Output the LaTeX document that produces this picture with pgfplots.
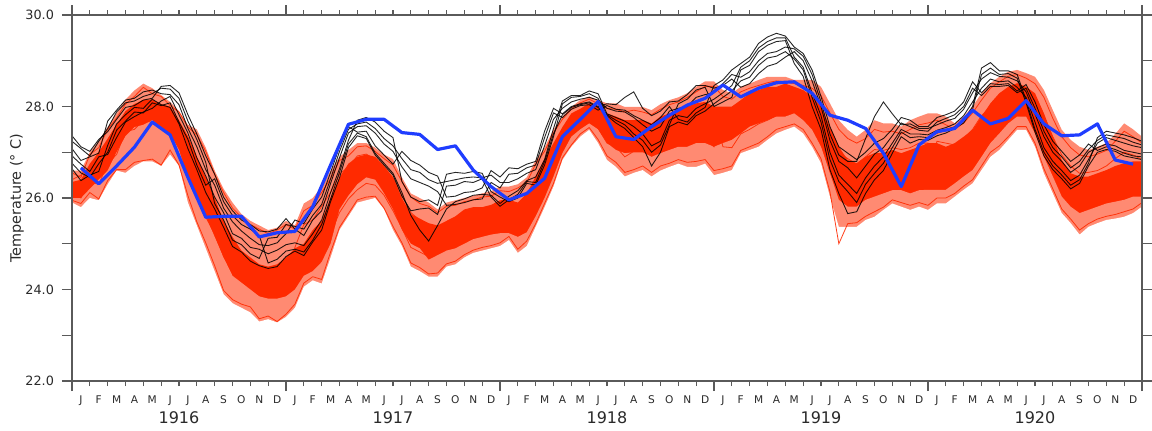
\documentclass[border=0pt]{standalone}
\usepackage{fontspec}
\setmainfont{DejaVu Sans}
\usepackage{pgfplots}
\usepackage{pgfplotstable}
\pgfplotsset{compat=1.18}

\definecolor{ensred}{HTML}{FF2A00}
\definecolor{enspale}{HTML}{FF8A72}
\definecolor{obsblue}{HTML}{1F3DFF}
\definecolor{axgray}{HTML}{5A5A5A}
\definecolor{txt}{HTML}{2A2A2A}

% Half-monthly ensemble spread (outer and core range), five sample red members
% and six black members; x = months since Jan 1916
\pgfplotstableread{
x rlo rhi clo chi r1 r2 r3 r4 r5 b1 b2 b3 b4 b5 b6
0 25.90 26.60 26.00 26.35 26.55 25.95 26.40 26.10 26.25 27.36 26.76 27.08 26.92 27.24 26.64
0.5 25.80 26.60 26.00 26.40 26.45 25.88 26.50 26.00 26.22 27.12 26.55 26.82 26.74 27.08 26.38
1 26.00 27.00 26.20 26.75 26.95 26.12 26.65 26.35 26.48 27.02 26.45 26.90 26.58 26.92 26.50
1.5 25.95 27.25 26.40 27.00 27.10 25.98 27.00 26.30 26.75 27.28 26.75 26.98 26.90 27.24 26.58
2 26.30 27.55 26.60 27.30 27.50 26.38 27.25 26.75 26.95 27.45 27.00 27.68 26.95 27.52 27.15
2.5 26.60 27.85 27.00 27.60 27.75 26.62 27.60 26.95 27.35 27.72 27.48 27.92 27.32 27.88 27.62
3 26.55 28.15 27.35 27.90 28.05 26.62 27.80 27.45 27.60 27.98 27.68 28.14 27.66 28.08 27.82
3.5 26.70 28.35 27.55 28.05 28.22 26.78 28.05 27.50 27.85 28.02 27.88 28.18 27.78 28.12 27.98
4 26.80 28.50 27.60 28.15 28.42 26.82 28.08 27.70 27.92 28.14 27.86 28.32 27.88 28.22 27.96
4.5 26.80 28.40 27.70 28.15 28.28 26.85 28.15 27.65 28.00 28.18 28.08 28.36 27.96 28.28 28.16
5 26.70 28.25 27.55 28.05 28.22 26.72 27.95 27.62 27.82 28.44 28.02 28.28 28.12 28.40 28.04
5.5 26.95 28.10 27.40 28.00 28.02 27.05 27.98 27.42 27.78 28.46 28.08 28.26 28.22 28.38 27.98
6 26.70 27.90 27.05 27.70 27.88 26.72 27.58 27.12 27.38 28.30 27.66 28.04 27.82 28.18 27.62
6.5 25.90 27.60 26.45 27.35 27.55 26.05 27.32 26.48 26.92 27.82 27.28 27.52 27.42 27.68 27.08
7 25.40 27.50 25.95 26.90 27.38 25.48 26.82 26.05 26.38 27.40 26.72 27.12 26.88 27.28 26.62
7.5 24.90 27.10 25.60 26.45 27.02 25.02 26.42 25.58 26.05 26.92 26.28 26.62 26.48 26.78 26.12
8 24.40 26.60 25.15 26.00 26.52 24.52 25.92 25.22 25.58 26.52 26.42 26.28 26.02 25.88 25.76
8.5 23.90 26.20 24.70 25.50 26.12 23.98 25.48 24.72 25.12 26.02 25.92 25.78 25.68 25.52 25.36
9 23.70 25.90 24.30 25.15 25.78 23.78 25.08 24.38 24.72 25.72 25.62 25.48 25.22 25.08 24.94
9.5 23.60 25.65 24.15 24.85 25.58 23.68 24.82 24.18 24.52 25.52 25.42 25.28 25.12 24.98 24.82
10 23.50 25.50 24.00 24.70 25.42 23.62 24.62 24.08 24.32 25.42 25.32 25.12 24.92 24.78 24.62
10.5 23.30 25.40 23.85 24.55 25.32 23.36 24.52 23.88 24.22 25.28 25.18 24.98 24.88 24.68 24.52
11 23.35 25.30 23.80 24.50 25.22 23.42 24.42 23.86 24.12 25.26 24.58 24.96 24.78 25.12 24.46
11.5 23.28 25.35 23.80 24.55 25.30 23.30 24.52 23.82 24.22 25.32 24.66 25.02 24.86 25.14 24.50
12 23.40 25.50 23.85 24.70 25.42 23.46 24.62 23.98 24.28 25.55 24.84 25.22 24.98 25.42 24.72
12.5 23.60 25.40 24.00 24.90 25.32 23.68 24.08 24.92 24.52 25.32 24.88 25.52 25.02 25.38 24.84
13 24.06 25.88 24.30 25.00 25.72 24.14 24.48 25.42 24.92 25.18 24.82 25.44 24.96 25.32 24.74
13.5 24.20 26.00 24.40 25.30 25.84 24.28 24.62 25.52 25.12 25.52 25.08 25.76 25.22 25.62 25.04
14 24.13 26.25 24.60 25.50 26.12 24.22 24.72 25.82 25.18 25.72 25.42 26.02 25.52 25.86 25.30
14.5 24.70 26.60 25.00 26.00 26.42 24.82 25.22 26.12 25.62 26.32 25.98 26.56 26.12 26.42 25.92
15 25.30 26.90 25.75 26.45 26.82 25.36 25.68 26.52 26.12 26.88 26.56 27.12 26.64 27.02 26.44
15.5 25.60 27.05 26.05 26.75 26.92 25.66 25.98 26.68 26.36 27.42 27.18 27.56 27.26 27.50 27.10
16 25.90 27.20 26.30 26.90 27.12 25.96 26.18 26.92 26.52 27.56 27.42 27.44 27.70 27.62 27.36
16.5 25.95 27.20 26.45 26.95 27.14 26.02 26.32 26.96 26.62 27.58 27.34 27.46 27.76 27.66 27.30
17 26.00 27.10 26.40 26.90 27.02 26.04 26.28 26.84 26.58 27.42 26.98 27.14 27.66 27.52 26.94
17.5 25.75 26.95 26.10 26.70 26.86 25.78 26.06 26.66 26.34 27.18 26.76 26.94 27.46 27.30 26.72
18 25.30 26.85 25.75 26.45 26.72 25.38 25.72 26.44 26.06 27.02 26.54 26.74 27.32 27.14 26.50
18.5 24.95 26.45 25.30 26.00 26.36 25.02 25.34 26.06 25.68 26.68 26.12 27.02 26.36 26.86 26.04
19 24.50 26.10 25.00 25.65 26.02 24.58 24.92 25.68 25.32 26.42 25.62 26.82 26.02 26.62 25.72
19.5 24.40 26.00 24.90 25.55 25.88 24.48 24.82 25.52 25.18 26.34 25.30 26.72 25.92 26.56 25.76
20 24.28 25.90 24.65 25.45 25.82 24.34 24.72 25.42 25.06 26.26 25.06 26.56 25.96 26.40 25.78
20.5 24.28 25.75 24.75 25.40 25.68 24.36 24.78 25.36 25.04 26.14 25.40 26.48 25.84 26.32 25.64
21 24.50 25.90 24.85 25.50 25.82 24.56 24.92 25.46 25.22 25.84 25.76 26.02 26.52 26.36 26.26
21.5 24.55 25.95 24.90 25.60 25.84 24.62 24.94 25.56 25.26 25.86 25.92 26.04 26.56 26.40 26.28
22 24.70 26.00 25.00 25.75 25.92 24.76 25.06 25.66 25.36 25.90 25.98 26.12 26.54 26.44 26.36
22.5 24.80 26.05 25.10 25.80 25.96 24.86 25.16 25.72 25.44 25.96 26.06 26.14 26.58 26.46 26.34
23 24.85 26.10 25.15 25.80 26.02 24.92 25.22 25.76 25.50 25.98 26.08 26.22 26.54 26.44 26.42
23.5 24.90 26.15 25.20 25.85 26.04 24.96 25.24 25.82 25.56 26.34 26.06 26.60 26.14 26.50 26.02
24 24.95 26.25 25.23 25.95 26.16 25.02 25.32 25.88 25.60 26.22 25.88 26.46 26.02 26.34 25.82
24.5 25.08 26.25 25.23 25.96 26.14 25.16 25.88 25.46 25.66 26.52 26.04 26.66 25.92 26.34 25.96
25 24.80 26.30 25.15 25.90 26.22 24.88 25.86 25.24 25.56 26.54 26.16 26.64 26.00 26.42 26.08
25.5 24.95 26.45 25.25 26.10 26.34 25.06 26.02 25.38 25.72 26.66 26.38 26.74 26.32 26.54 26.36
26 25.37 26.83 25.60 26.47 26.74 25.44 26.42 25.78 26.12 26.72 26.46 26.80 26.28 26.62 26.34
26.5 25.80 27.10 26.00 26.85 27.02 25.88 26.68 26.22 26.44 27.32 26.84 27.46 26.72 27.14 26.80
27 26.25 27.50 26.47 27.20 27.42 26.32 27.12 26.64 26.86 27.86 27.52 27.96 27.34 27.72 27.40
27.5 26.83 27.78 26.98 27.55 27.72 26.88 27.48 27.12 27.30 27.76 28.12 27.84 28.06 27.96 27.82
28 27.12 27.99 27.34 27.85 27.94 27.16 27.72 27.38 27.56 27.94 28.24 28.00 28.20 28.10 27.98
28.5 27.34 28.14 27.50 27.95 28.08 27.40 27.90 27.56 27.74 28.02 28.24 28.06 28.22 28.16 28.04
29 27.49 28.22 27.63 28.07 28.16 27.54 28.02 27.68 27.86 28.04 28.34 28.10 28.28 28.20 28.08
29.5 27.20 28.14 27.50 27.99 28.06 27.28 27.84 27.52 27.70 27.92 28.28 28.00 28.18 28.14 27.98
30 26.83 28.07 27.20 27.85 27.96 26.92 27.70 27.20 27.46 28.02 27.84 28.06 27.80 27.96 27.82
30.5 26.68 28.07 27.05 27.78 27.94 26.78 27.64 27.12 27.36 27.94 27.76 28.04 27.64 27.90 27.70
31 26.47 27.99 26.98 27.70 27.88 26.56 27.52 26.90 27.24 27.92 27.68 28.20 27.52 27.88 27.60
31.5 26.55 27.99 27.00 27.70 27.92 26.62 27.56 27.02 27.30 27.80 27.56 28.32 27.32 27.76 27.40
32 26.61 27.99 27.00 27.70 27.88 26.70 27.60 27.06 27.32 27.70 27.40 27.96 27.12 27.60 27.26
32.5 26.47 27.92 26.90 27.63 27.82 26.56 27.48 26.92 27.20 27.60 27.14 27.80 26.70 27.46 27.00
33 26.60 28.05 26.98 27.78 27.94 26.70 27.62 27.06 27.36 27.76 27.24 27.90 27.00 27.56 27.16
33.5 26.68 28.14 27.05 27.85 28.04 26.76 27.70 27.12 27.40 28.00 27.70 28.10 27.56 27.90 27.60
34 26.75 28.20 27.12 27.92 28.10 26.84 27.76 27.20 27.50 27.72 27.80 28.12 27.66 27.96 28.06
34.5 26.68 28.29 27.12 28.00 28.20 26.78 27.82 27.20 27.52 27.66 27.76 28.26 27.60 28.00 28.16
35 26.68 28.43 27.20 28.07 28.32 26.80 27.92 27.22 27.56 27.86 27.96 28.46 27.80 28.20 28.36
35.5 26.75 28.55 27.20 28.10 28.44 26.84 28.00 27.30 27.66 27.98 28.06 28.46 27.90 28.26 28.42
36 26.50 28.55 27.12 28.00 28.44 26.60 27.96 27.12 27.50 28.46 28.16 28.40 28.06 28.30 28.00
36.5 26.55 28.36 27.20 28.00 28.22 26.64 27.12 27.82 27.46 28.58 28.30 28.46 28.20 28.50 28.10
37 26.61 28.29 27.27 28.00 28.16 26.70 27.10 27.80 27.46 28.80 28.46 28.60 28.34 28.70 28.20
37.5 26.98 28.43 27.41 28.14 28.32 27.04 27.40 28.00 27.70 28.94 28.86 28.42 28.56 28.64 28.80
38 27.05 28.50 27.56 28.29 28.40 27.12 27.50 28.06 27.80 29.08 29.00 28.50 28.64 28.76 28.90
38.5 27.12 28.58 27.63 28.36 28.46 27.20 27.62 28.14 27.86 29.38 29.28 28.72 28.90 29.00 29.20
39 27.27 28.65 27.70 28.43 28.52 27.34 27.70 28.26 27.96 29.52 29.42 28.88 29.06 29.16 29.34
39.5 27.41 28.65 27.78 28.43 28.56 27.50 27.80 28.30 28.04 29.60 29.50 28.94 29.10 29.20 29.42
40 27.49 28.65 27.78 28.50 28.54 27.56 27.86 28.30 28.10 29.54 29.50 29.08 29.20 29.30 29.44
40.5 27.56 28.58 27.85 28.43 28.50 27.62 27.90 28.30 28.10 29.30 29.08 29.20 29.04 29.26 28.94
41 27.41 28.58 27.70 28.36 28.46 27.50 27.80 28.26 28.00 29.16 28.86 29.00 28.80 29.10 28.66
41.5 27.12 28.58 27.49 28.22 28.40 27.20 27.60 28.16 27.86 28.80 28.30 28.56 28.20 28.70 28.00
42 26.76 28.43 27.12 28.00 28.24 26.86 27.26 27.90 27.60 28.22 27.80 28.00 27.66 28.10 27.50
42.5 26.03 28.07 26.54 27.56 27.86 26.14 26.66 27.46 27.04 27.56 27.00 27.26 26.84 27.40 26.62
43 25.37 27.70 25.96 27.12 27.50 25.00 26.06 27.00 26.50 27.12 26.50 26.80 26.36 26.94 26.10
43.5 25.37 27.49 25.81 26.83 27.30 25.44 26.00 26.86 26.40 26.98 26.30 26.66 26.14 26.80 25.66
44 25.37 27.34 25.81 26.76 27.20 25.46 25.96 26.74 26.34 26.84 26.10 26.44 25.90 26.80 25.70
44.5 25.52 27.49 25.96 26.90 27.30 25.60 26.10 26.90 26.50 27.00 26.44 26.70 26.30 27.30 26.10
45 25.59 27.70 26.03 26.98 27.50 25.70 26.20 27.06 26.64 27.20 26.70 26.96 26.54 27.78 26.40
45.5 25.74 27.63 26.10 26.98 27.44 25.80 26.30 27.04 26.70 27.30 26.90 27.10 26.76 28.10 26.60
46 25.88 27.63 26.17 27.05 27.46 25.96 26.40 27.10 26.76 27.50 27.20 27.36 27.10 27.84 26.98
46.5 25.81 27.56 26.17 26.98 27.40 25.90 26.34 27.06 26.70 27.76 27.50 27.64 27.44 27.60 27.34
47 25.74 27.70 26.10 27.05 27.50 25.84 26.30 27.10 26.70 27.70 27.40 27.56 27.32 27.62 27.20
47.5 25.81 27.78 26.17 27.12 27.60 25.90 26.40 27.20 26.80 27.56 27.40 27.48 27.34 27.52 27.28
48 25.74 27.85 26.18 27.20 27.64 25.84 26.36 27.20 26.80 27.56 27.38 27.46 27.32 27.52 27.26
48.5 25.88 27.85 26.18 27.20 27.70 26.00 27.24 26.46 26.84 27.76 27.48 27.66 27.42 27.60 27.36
49 25.88 27.78 26.18 27.12 27.60 26.00 27.20 26.44 26.86 27.82 27.54 27.74 27.48 27.68 27.42
49.5 26.03 27.63 26.32 27.20 27.50 26.10 27.16 26.50 26.86 27.90 27.62 27.82 27.56 27.74 27.52
50 26.18 27.78 26.47 27.34 27.64 26.26 27.30 26.66 27.00 28.10 27.80 28.00 27.70 27.94 27.64
50.5 26.32 28.00 26.61 27.49 27.86 26.40 27.50 26.84 27.16 28.54 28.10 28.40 28.00 28.30 27.94
51 26.61 28.29 26.90 27.78 28.14 26.70 27.80 27.10 27.44 28.30 28.40 28.24 28.84 28.60 28.70
51.5 26.90 28.51 27.20 28.07 28.40 27.00 28.00 27.40 27.70 28.50 28.60 28.44 28.96 28.74 28.84
52 27.05 28.65 27.41 28.29 28.54 27.14 28.14 27.56 27.86 28.48 28.54 28.44 28.78 28.66 28.70
52.5 27.27 28.76 27.63 28.43 28.66 27.34 28.30 27.70 28.00 28.50 28.56 28.46 28.78 28.64 28.72
53 27.49 28.80 27.78 28.51 28.70 27.56 28.40 27.90 28.14 28.34 28.42 28.30 28.70 28.56 28.62
53.5 27.49 28.73 27.78 28.43 28.62 27.56 28.34 27.84 28.10 28.48 28.20 28.40 28.14 28.32 28.08
54 27.12 28.65 27.41 28.29 28.50 27.20 28.20 27.60 27.90 28.10 27.66 27.96 27.50 27.84 27.44
54.5 26.54 28.36 26.90 27.85 28.20 26.64 27.80 27.10 27.44 27.60 27.10 27.46 27.00 27.34 26.92
55 26.10 27.92 26.47 27.34 27.74 26.20 27.34 26.66 27.00 27.24 26.80 27.10 26.70 27.00 26.62
55.5 25.67 27.49 26.03 26.83 27.34 25.76 26.94 26.20 26.60 27.02 26.60 26.90 26.50 26.80 26.42
56 25.45 27.27 25.81 26.54 27.10 25.54 26.70 26.00 26.36 26.80 26.38 26.66 26.28 26.56 26.20
56.5 25.20 27.12 25.67 26.47 26.94 25.30 26.54 25.80 26.16 26.94 26.50 26.80 26.40 26.70 26.32
57 25.37 27.05 25.74 26.47 26.90 25.44 26.56 25.90 26.20 27.18 26.84 27.06 26.76 27.00 26.70
57.5 25.45 27.12 25.81 26.54 26.96 25.54 26.60 25.96 26.30 27.04 27.20 27.26 27.32 27.10 27.00
58 25.52 27.20 25.88 26.61 27.04 25.60 26.70 26.00 26.36 27.12 27.32 27.38 27.46 27.18 27.06
58.5 25.55 27.40 25.92 26.70 27.24 25.64 26.86 26.10 26.50 27.06 27.26 27.34 27.42 27.14 27.02
59 25.59 27.63 25.96 26.76 27.46 25.70 27.00 26.20 26.60 26.98 27.20 27.30 27.38 27.04 26.92
59.5 25.67 27.50 26.03 26.80 27.34 25.76 26.94 26.20 26.60 26.92 27.14 27.22 27.32 27.00 26.88
60 25.81 27.34 26.03 26.80 27.20 25.90 26.84 26.26 26.54 26.90 27.10 27.16 27.24 26.96 26.84
}\ens

% Observed monthly means, plotted at mid-month
\pgfplotstableread{
m t
0.5 26.66
1.5 26.31
2.5 26.70
3.5 27.11
4.5 27.66
5.5 27.38
6.5 26.45
7.5 25.58
8.5 25.60
9.5 25.60
10.5 25.15
11.5 25.24
12.5 25.27
13.5 25.81
14.5 26.72
15.5 27.61
16.5 27.72
17.5 27.72
18.5 27.43
19.5 27.39
20.5 27.06
21.5 27.14
22.5 26.61
23.5 26.25
24.5 25.96
25.5 26.10
26.5 26.43
27.5 27.34
28.5 27.72
29.5 28.11
30.5 27.34
31.5 27.28
32.5 27.56
33.5 27.81
34.5 28.03
35.5 28.18
36.5 28.47
37.5 28.21
38.5 28.40
39.5 28.52
40.5 28.54
41.5 28.29
42.5 27.81
43.5 27.70
44.5 27.52
45.5 26.98
46.5 26.25
47.5 27.16
48.5 27.45
49.5 27.52
50.5 27.92
51.5 27.62
52.5 27.74
53.5 28.13
54.5 27.62
55.5 27.36
56.5 27.38
57.5 27.62
58.5 26.83
59.5 26.74
}\obs

\begin{document}
\begin{tikzpicture}
\path[use as bounding box] (0,0) rectangle (576pt,215pt);
\begin{axis}[
  at={(36pt,24.5pt)}, anchor=south west,
  width=535pt, height=183pt, scale only axis,
  xmin=0, xmax=60, ymin=22, ymax=30,
  axis on top, clip mode=individual,
  axis line style={axgray, line width=0.65pt},
  tick align=outside,
  major tick length=5pt, minor tick length=2.5pt,
  tick style={axgray, line width=0.55pt},
  ytick={22,23,...,30},
  yticklabels={22.0,,24.0,,26.0,,28.0,,30.0},
  yticklabel style={font=\fontsize{6.4}{7}\selectfont, text=txt, xshift=-0.5pt},
  xtick={0,12,...,60},
  xticklabels={,,,,,},
  minor xtick={1,2,...,59},
  extra x ticks={0.5,1.5,...,59.5},
  extra x tick labels={J,F,M,A,M,J,J,A,S,O,N,D,J,F,M,A,M,J,J,A,S,O,N,D,J,F,M,A,M,J,J,A,S,O,N,D,J,F,M,A,M,J,J,A,S,O,N,D,J,F,M,A,M,J,J,A,S,O,N,D},
  extra x tick style={tick style={draw=none},
    xticklabel style={font=\fontsize{5.3}{6}\selectfont, text=txt, yshift=1.2pt}},
  ylabel={Temperature (° C)},
  every axis y label/.style={at={(rel axis cs:0,0.5)}, xshift=-27.5pt, rotate=90,
    anchor=center, font=\fontsize{7.2}{8}\selectfont, text=txt},
]
% ensemble spread, stacked from the top envelope down
\addplot[fill=enspale, draw=none, forget plot] table[x=x, y=rhi]{\ens} \closedcycle;
\addplot[fill=ensred, draw=none, forget plot] table[x=x, y=chi]{\ens} \closedcycle;
\addplot[fill=enspale, draw=none, forget plot] table[x=x, y=clo]{\ens} \closedcycle;
\addplot[fill=white, draw=none, forget plot] table[x=x, y=rlo]{\ens} \closedcycle;
% red members
\pgfplotsinvokeforeach{r1,r2,r3,r4,r5}{
  \addplot[ensred, line width=0.4pt, opacity=0.9] table[x=x, y=#1]{\ens};
}
% black members
\pgfplotsinvokeforeach{b1,b2,b3,b4,b5,b6}{
  \addplot[black, line width=0.45pt, opacity=0.85] table[x=x, y=#1]{\ens};
}
% observations
\addplot[obsblue, line width=1.6pt, line join=round] table[x=m, y=t]{\obs};
% year labels
\node[font=\fontsize{8}{9}\selectfont, text=txt, yshift=-18.5pt] at (axis cs:6,22) {1916};
\node[font=\fontsize{8}{9}\selectfont, text=txt, yshift=-18.5pt] at (axis cs:18,22) {1917};
\node[font=\fontsize{8}{9}\selectfont, text=txt, yshift=-18.5pt] at (axis cs:30,22) {1918};
\node[font=\fontsize{8}{9}\selectfont, text=txt, yshift=-18.5pt] at (axis cs:42,22) {1919};
\node[font=\fontsize{8}{9}\selectfont, text=txt, yshift=-18.5pt] at (axis cs:54,22) {1920};
\end{axis}
\end{tikzpicture}
\end{document}
